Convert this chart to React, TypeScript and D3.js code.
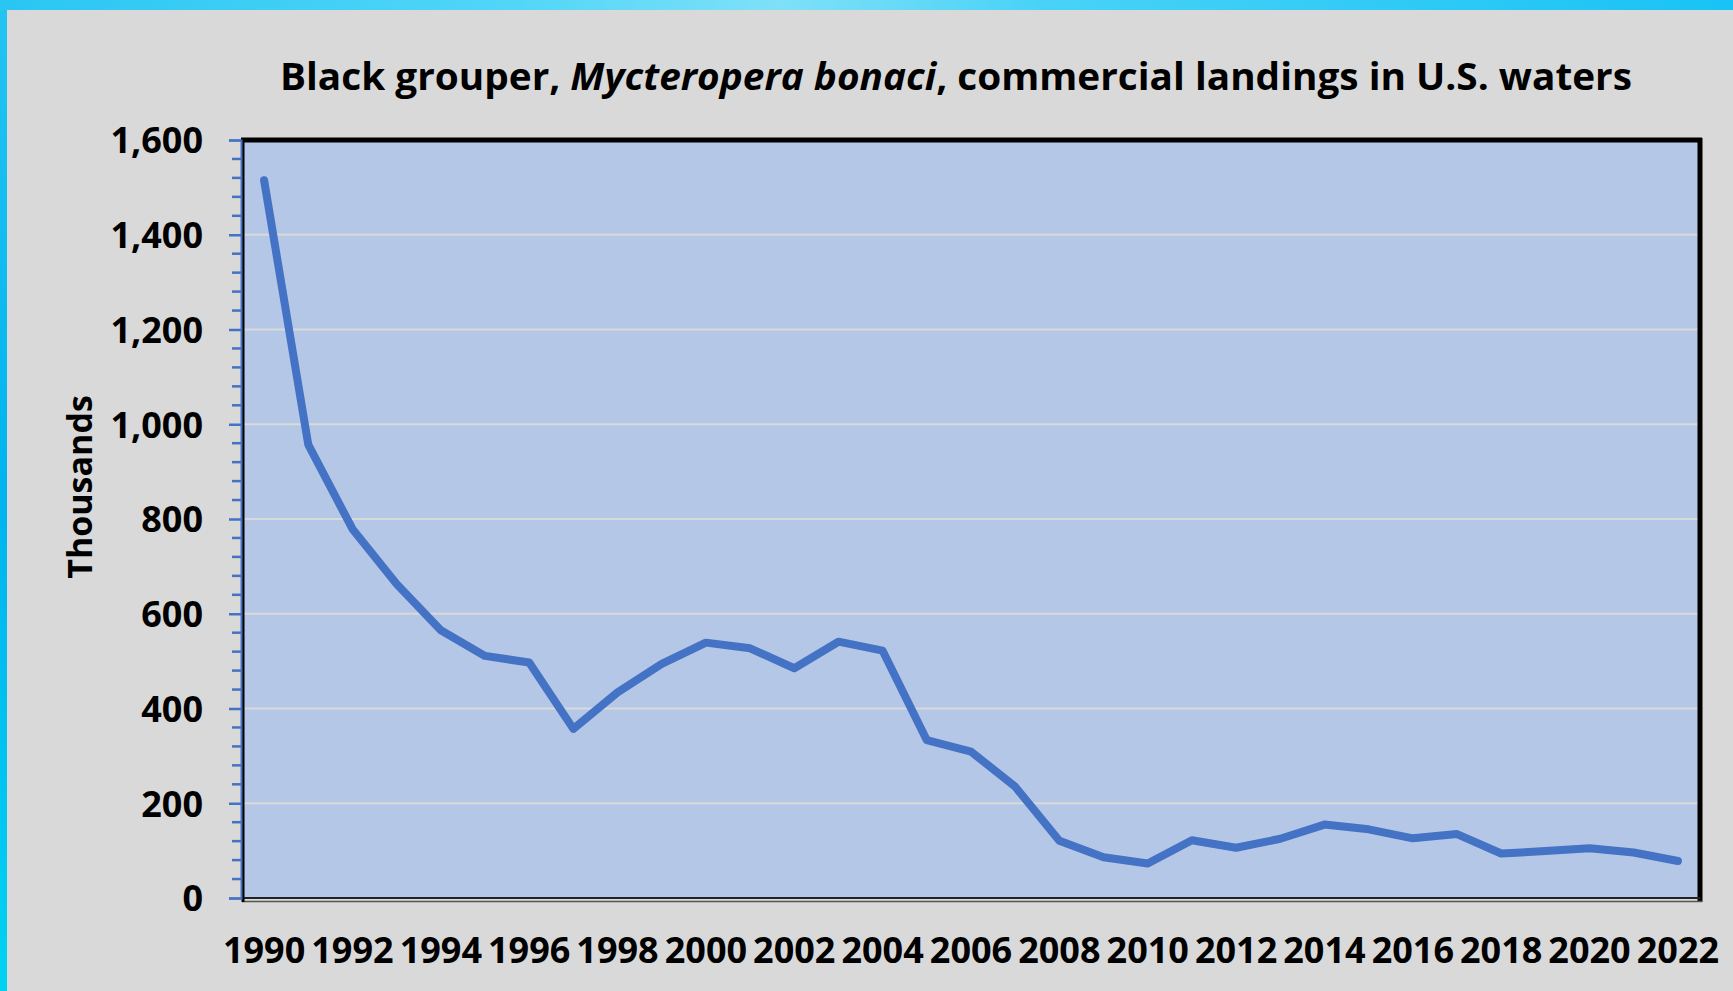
import { useEffect, useRef } from 'react';
import * as d3 from 'd3';

const years = d3.range(1990, 2023).map(String);
const landings = [
  1515, 957, 779, 663, 565, 511, 497, 357, 434, 494, 539, 527, 485, 541, 522,
  333, 309, 235, 121, 86, 73, 122, 106, 125, 155, 145, 126, 135, 94, 99, 105,
  96, 78,
];
const yTicks = [0, 200, 400, 600, 800, 1000, 1200, 1400, 1600];
const xLabelYears = years.filter((_, i) => i % 2 === 0);

const titleStart = 'Black grouper, ';
const titleItalic = 'Mycteropera bonaci';
const titleEnd = ', commercial landings in U.S. waters';
const yTitle = 'Thousands';

export default function App() {
  const gy = useRef<SVGGElement>(null);

  const width = 1733,
    height = 991,
    plotLeft = 242,
    plotRight = 1700,
    plotTop = 140,
    plotBottom = 898;

  const font = "'Open Sans', 'DejaVu Sans', sans-serif";
  const lineColor = '#4472c4';

  const x = d3
    .scalePoint()
    .domain(years)
    .range([plotLeft, plotRight])
    .padding(0.5);

  const y = d3.scaleLinear().domain([0, 1600]).range([plotBottom, plotTop]);

  const line = d3
    .line<number>()
    .x((_, i) => x(years[i]) as number)
    .y((d) => y(d));

  const minorTicks = d3.range(0, 1601, 40).filter((v) => v % 200 !== 0);

  useEffect(() => {
    // major ticks + labels through d3's own axis
    const g = d3.select(gy.current);
    g.call(
      d3
        .axisLeft(y)
        .tickValues(yTicks)
        .tickSize(12)
        .tickPadding(26)
        .tickFormat(d3.format(','))
    );
    g.select('.domain')
      .attr('stroke', lineColor)
      .attr('stroke-width', 2);
    g.selectAll('.tick line')
      .attr('stroke', lineColor)
      .attr('stroke-width', 2.5);
    g.selectAll('.tick text')
      .attr('fill', '#000')
      .attr('font-family', font)
      .attr('font-weight', 700)
      .attr('font-size', 36)
      .attr('dy', '0.36em');
    g.selectAll('.minor')
      .data(minorTicks)
      .join('line')
      .attr('class', 'minor')
      .attr('x1', -9)
      .attr('x2', 0)
      .attr('y1', (d) => y(d))
      .attr('y2', (d) => y(d))
      .attr('stroke', lineColor)
      .attr('stroke-width', 2.5);
  }, []);

  return (
    <svg
      width={width}
      height={height}
      style={{ position: 'absolute', left: 0, top: 0, display: 'block' }}
    >
      <defs>
        <linearGradient id="sky" x1="0" x2="1" y1="0" y2="0">
          <stop offset="0" stopColor="#29c6f3" />
          <stop offset="0.3" stopColor="#52d6f8" />
          <stop offset="0.45" stopColor="#7fe0f8" />
          <stop offset="0.6" stopColor="#49d2f7" />
          <stop offset="1" stopColor="#18c3f5" />
        </linearGradient>
        <linearGradient id="side" x1="0" x2="0" y1="0" y2="1">
          <stop offset="0" stopColor="#22c4f2" />
          <stop offset="0.5" stopColor="#00b4ee" />
          <stop offset="1" stopColor="#00d2f2" />
        </linearGradient>
      </defs>
      <rect width={width} height={height} fill="url(#sky)" />
      <rect x={0} y={10} width={7} height={height - 10} fill="url(#side)" />
      <rect x={7} y={10} width={width - 7} height={height - 10} fill="#d9d9d9" />

      <text
        x={956}
        y={90}
        textAnchor="middle"
        fontFamily={font}
        fontWeight={700}
        fontSize={38}
        textLength={1352}
        lengthAdjust="spacingAndGlyphs"
        fill="#000"
      >
        {titleStart}
        <tspan fontStyle="italic">{titleItalic}</tspan>
        {titleEnd}
      </text>

      <rect
        x={plotLeft}
        y={plotTop}
        width={plotRight - plotLeft}
        height={plotBottom - plotTop}
        fill="#b4c7e7"
      />
      {yTicks
        .filter((v) => v > 0 && v < 1600)
        .map((v) => (
          <line
            key={v}
            x1={plotLeft}
            x2={plotRight}
            y1={y(v)}
            y2={y(v)}
            stroke="#d9d9d9"
            strokeWidth={2}
          />
        ))}

      {/* frame */}
      <line x1={plotLeft - 1} x2={plotRight + 2} y1={plotTop} y2={plotTop} stroke="#000" strokeWidth={5} />
      <line x1={plotRight} x2={plotRight} y1={plotTop - 2} y2={plotBottom + 4} stroke="#000" strokeWidth={5} />
      <line x1={plotLeft} x2={plotRight} y1={plotBottom} y2={plotBottom} stroke="#222" strokeWidth={2} />
      <line x1={plotLeft} x2={plotRight + 2} y1={plotBottom + 3.5} y2={plotBottom + 3.5} stroke="#555" strokeWidth={1.5} />
      <line x1={plotLeft + 1} x2={plotLeft + 1} y1={plotTop} y2={plotBottom + 4} stroke="#000" strokeWidth={3} />

      <path
        d={line(landings) ?? ''}
        fill="none"
        stroke={lineColor}
        strokeWidth={8}
        strokeLinejoin="round"
        strokeLinecap="round"
      />

      <g ref={gy} transform={`translate(${plotLeft - 1},0)`} />

      {xLabelYears.map((yr) => (
        <text
          key={yr}
          x={x(yr)}
          y={963}
          textAnchor="middle"
          fontFamily={font}
          fontWeight={700}
          fontSize={36}
          fill="#000"
        >
          {yr}
        </text>
      ))}

      <text
        transform="translate(92,487) rotate(-90)"
        textAnchor="middle"
        fontFamily={font}
        fontWeight={700}
        fontSize={34}
        fill="#000"
      >
        {yTitle}
      </text>
    </svg>
  );
}
